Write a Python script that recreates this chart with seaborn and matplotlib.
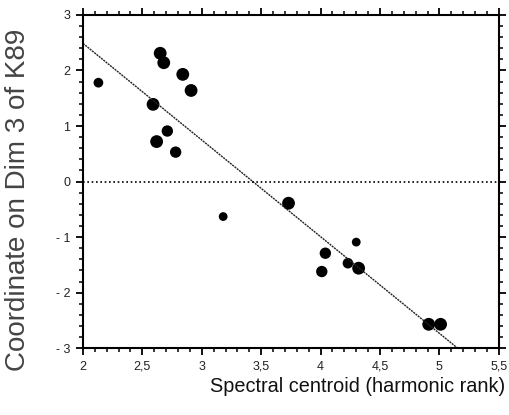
import numpy as np
import pandas as pd
import matplotlib
matplotlib.use("Agg")
import matplotlib.pyplot as plt
import seaborn as sns
from matplotlib.ticker import MultipleLocator, FixedLocator

# Data
centroid = [2.13, 2.65, 2.68, 2.84, 2.91, 2.59, 2.71, 2.62, 2.78,
            3.18, 3.73, 4.04, 4.01, 4.30, 4.23, 4.32, 4.91, 5.01]
dim3 = [1.78, 2.31, 2.14, 1.93, 1.64, 1.39, 0.91, 0.72, 0.53,
        -0.63, -0.39, -1.29, -1.62, -1.09, -1.47, -1.56, -2.57, -2.57]
dot_size = [40, 60, 60, 60, 60, 60, 50, 60, 50,
            35, 60, 50, 50, 35, 45, 60, 60, 60]

x_ticks = [2, 2.5, 3, 3.5, 4, 4.5, 5, 5.5]
x_ticklabels = ["2", "2,5", "3", "3,5", "4", "4,5", "5", "5,5"]
y_ticks = [-3, -2, -1, 0, 1, 2, 3]
y_ticklabels = ["- 3", "- 2", "- 1", "0", "1", "2", "3"]

df = pd.DataFrame({"centroid": centroid, "dim3": dim3, "size": dot_size})

sns.set_theme(style="white")
plt.rcParams["font.family"] = ["Liberation Sans", "DejaVu Sans"]

fig = plt.figure(figsize=(5.09, 4.15), dpi=100)
ax = fig.add_axes([0.163, 0.161, 0.817, 0.803])
ax.set_xlim(2, 5.5)
ax.set_ylim(-3, 3)

sns.regplot(data=df, x="centroid", y="dim3", ax=ax, ci=None, truncate=False,
            scatter=False, line_kws=dict(color="#222222", lw=1.0, ls=(0, (1.5, 0.6))))
sns.scatterplot(data=df, x="centroid", y="dim3", size="size", sizes=(40, 85),
                color="black", edgecolor="black", linewidth=0, legend=False, ax=ax)
ax.axhline(0, color="black", lw=1.2, ls=(0, (1, 1.6)))

ax.set_xlim(2, 5.5)
ax.set_ylim(-3, 3)
ax.xaxis.set_major_locator(FixedLocator(x_ticks))
ax.xaxis.set_minor_locator(MultipleLocator(0.1))
ax.yaxis.set_major_locator(FixedLocator(y_ticks))
ax.yaxis.set_minor_locator(MultipleLocator(0.2))
ax.set_xticklabels(x_ticklabels)
ax.set_yticklabels(y_ticklabels)

for s in ax.spines.values():
    s.set_visible(True)
    s.set_color("black")
    s.set_linewidth(1.5)

ax.tick_params(which="major", direction="out", length=5, width=1.3, color="black",
               top=True, right=True, bottom=True, left=True,
               labeltop=False, labelright=False, labelsize=9, labelcolor="#222222", pad=4)
ax.tick_params(which="minor", direction="out", length=3, width=1.1, color="black",
               top=True, right=True, bottom=True, left=True)

ax.set_xlabel("Spectral centroid (harmonic rank)", fontsize=14.3, color="#111111")
ax.xaxis.set_label_coords(1.015, -0.085)
ax.xaxis.label.set_horizontalalignment("right")
ax.set_ylabel("Coordinate on Dim 3 of K89", fontsize=20, color="#444444")
ax.yaxis.set_label_coords(-0.125, 0.444)

fig.savefig("out.png", dpi=100)
